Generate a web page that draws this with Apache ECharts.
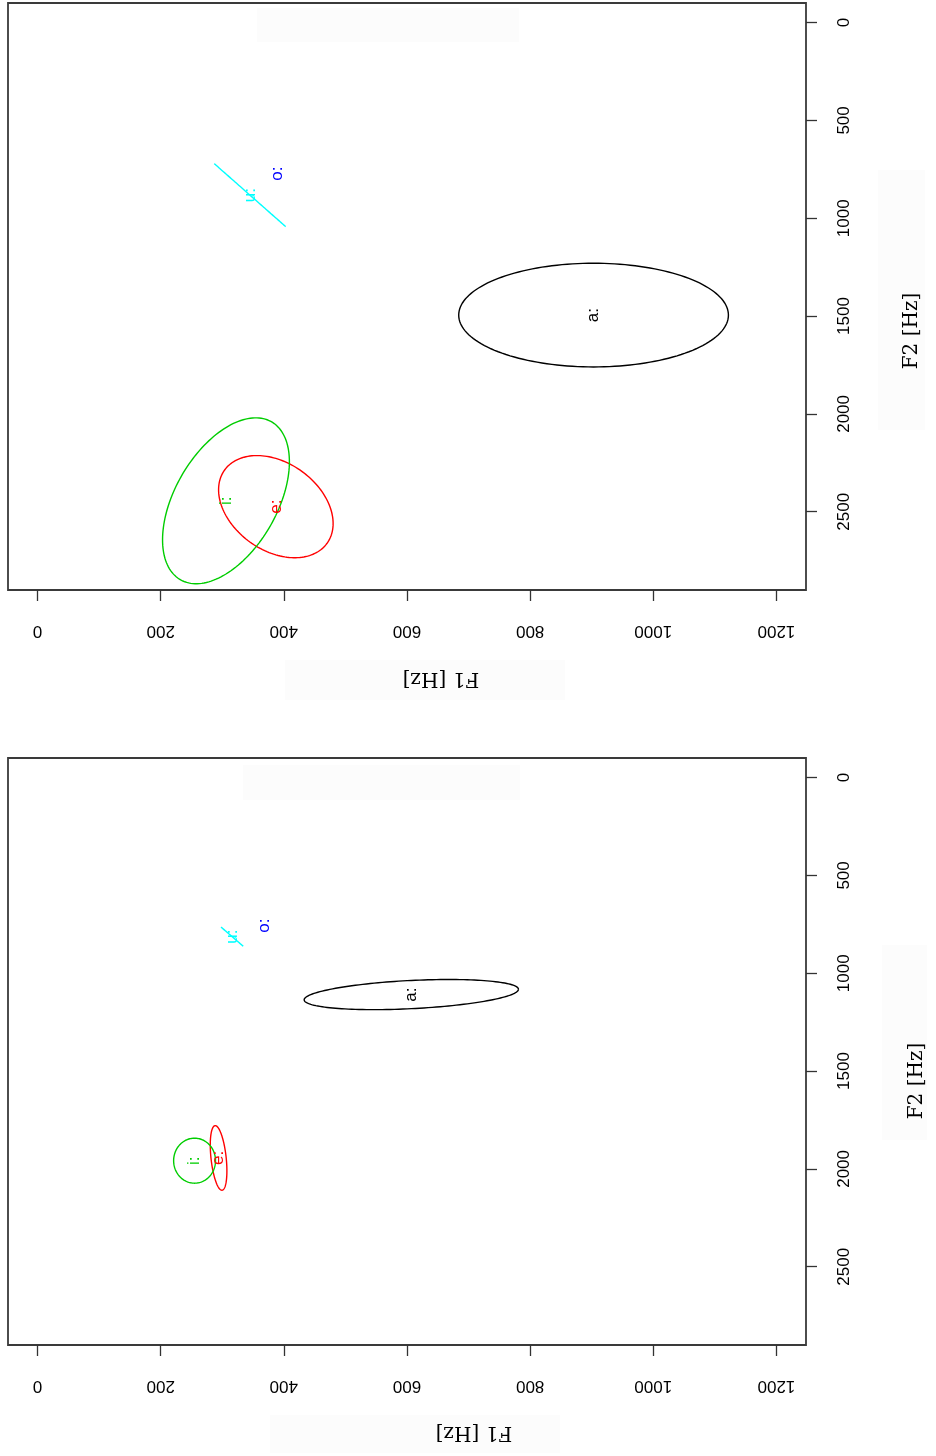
<!DOCTYPE html>
<html>
<head>
<meta charset="utf-8">
<script src="https://cdn.jsdelivr.net/npm/echarts@6/dist/echarts.min.js"></script>
<style>
  html, body { margin: 0; padding: 0; background: #ffffff; }
  #chart { width: 936px; height: 1456px; }
</style>
</head>
<body>
<div id="chart"></div>
<script>
// Vowel categories (long vowels) and their plotting colours
const vowels = ['a:', 'e:', 'i:', 'o:', 'u:'];
const vowelColors = ['#000000', '#ff0000', '#00cd00', '#0000ff', '#00ffff'];

// Axis tick values
const f1Ticks = [0, 200, 400, 600, 800, 1000, 1200];
const f2Ticks = [0, 500, 1000, 1500, 2000, 2500];

// Upper panel: centroids, ellipse half-extents and F1/F2 correlation
const f1MeanTop = [903, 387, 306, 390, 345];
const f2MeanTop = [1495, 2474, 2444, 772, 882];
const f1SpreadTop = [219, 93, 103, 0, 58];
const f2SpreadTop = [265, 261, 424, 0, 161];
const corrTop = [0, 0.33, -0.47, 0, 1];

// Lower panel: centroids, ellipse half-extents and F1/F2 correlation
const f1MeanBot = [607, 294, 255, 369, 316];
const f2MeanBot = [1109, 1944, 1958, 757, 813];
const f1SpreadBot = [174, 13.5, 34, 0, 18];
const f2SpreadBot = [77, 165, 115, 0, 49];
const corrBot = [-0.35, 0.4, 0, 0, 1];

const tickFont = '"Liberation Sans", Arial, sans-serif';
const titleFont = '"DejaVu Serif", serif';

function ellipseData(m1, m2, s1, s2, r) {
  const out = [];
  vowels.forEach((v, i) => {
    if (s1[i] > 0 || s2[i] > 0) {
      out.push({ name: v, value: [m1[i], m2[i], s1[i], s2[i], r[i]], itemStyle: { color: vowelColors[i] } });
    }
  });
  return out;
}

function labelData(m1, m2) {
  return vowels.map((v, i) => ({ name: v, value: [m1[i], m2[i]], itemStyle: { color: vowelColors[i] } }));
}

// Confidence ellipse traced in data space, mapped through the axes
function renderEllipse(params, api) {
  const m1 = api.value(0), m2 = api.value(1);
  const a = api.value(2), b = api.value(3), r = api.value(4);
  const s = Math.sqrt(Math.max(0, 1 - r * r));
  const pts = [];
  const n = 160;
  for (let k = 0; k <= n; k++) {
    const t = 2 * Math.PI * k / n;
    pts.push(api.coord([m1 + a * Math.cos(t), m2 + b * (r * Math.cos(t) + s * Math.sin(t))]));
  }
  return {
    type: 'polyline',
    shape: { points: pts },
    style: { fill: null, stroke: api.visual('color'), lineWidth: 1.4 }
  };
}

function renderLabel(params, api) {
  const p = api.coord([api.value(0), api.value(1)]);
  return {
    type: 'text',
    x: p[0],
    y: p[1],
    rotation: Math.PI / 2,
    style: {
      text: vowels[params.dataIndex],
      fill: api.visual('color'),
      font: '17px ' + tickFont,
      align: 'center',
      verticalAlign: 'middle'
    }
  };
}

const plain = v => String(v);

function xAxisDef(gridIndex) {
  return {
    type: 'value', gridIndex: gridIndex, min: -48, max: 1248, position: 'bottom',
    splitLine: { show: false },
    axisLine: { show: false, onZero: false },
    axisTick: { show: true, inside: false, customValues: f1Ticks, length: 11, lineStyle: { color: '#333', width: 1.3 } },
    axisLabel: { show: true, customValues: f1Ticks, formatter: plain, rotate: 180, margin: 32, color: '#000', fontSize: 17, fontFamily: tickFont }
  };
}

function yAxisDef(gridIndex) {
  return {
    type: 'value', gridIndex: gridIndex, min: -100, max: 2900, inverse: true, position: 'right',
    splitLine: { show: false },
    axisLine: { show: false, onZero: false },
    axisTick: { show: true, inside: false, customValues: f2Ticks, length: 11, lineStyle: { color: '#333', width: 1.3 } },
    axisLabel: { show: true, customValues: f2Ticks, formatter: plain, rotate: 90, margin: 30, color: '#000', fontSize: 17, fontFamily: tickFont }
  };
}

const gridStyle = { show: true, borderColor: '#3a3a3a', borderWidth: 1.8, backgroundColor: 'transparent', containLabel: false, outerBoundsMode: 'none' };

const faint = 'rgba(0,0,0,0.012)';

const chart = echarts.init(document.getElementById('chart'), null, { renderer: 'canvas' });
chart.setOption({
  animation: false,
  backgroundColor: '#ffffff',
  grid: [
    Object.assign({ left: 8, top: 3, width: 798, height: 587 }, gridStyle),
    Object.assign({ left: 8, top: 758, width: 798, height: 587 }, gridStyle)
  ],
  xAxis: [xAxisDef(0), xAxisDef(1)],
  yAxis: [yAxisDef(0), yAxisDef(1)],
  graphic: [
    { type: 'rect', shape: { x: 257, y: 8, width: 262, height: 34 }, style: { fill: faint }, silent: true },
    { type: 'rect', shape: { x: 285, y: 660, width: 280, height: 40 }, style: { fill: faint }, silent: true },
    { type: 'rect', shape: { x: 878, y: 170, width: 47, height: 260 }, style: { fill: faint }, silent: true },
    { type: 'rect', shape: { x: 243, y: 765, width: 277, height: 35 }, style: { fill: faint }, silent: true },
    { type: 'rect', shape: { x: 270, y: 1415, width: 290, height: 38 }, style: { fill: faint }, silent: true },
    { type: 'rect', shape: { x: 882, y: 945, width: 45, height: 195 }, style: { fill: faint }, silent: true },
    { type: 'text', x: 441, y: 678, rotation: Math.PI, style: { text: 'F1 [Hz]', font: '20px ' + titleFont, fill: '#000', align: 'center', verticalAlign: 'middle' } },
    { type: 'text', x: 912, y: 331, rotation: Math.PI / 2, style: { text: 'F2 [Hz]', font: '20px ' + titleFont, fill: '#000', align: 'center', verticalAlign: 'middle' } },
    { type: 'text', x: 474, y: 1432, rotation: Math.PI, style: { text: 'F1 [Hz]', font: '20px ' + titleFont, fill: '#000', align: 'center', verticalAlign: 'middle' } },
    { type: 'text', x: 917, y: 1081, rotation: Math.PI / 2, style: { text: 'F2 [Hz]', font: '20px ' + titleFont, fill: '#000', align: 'center', verticalAlign: 'middle' } }
  ],
  series: [
    { type: 'custom', xAxisIndex: 0, yAxisIndex: 0, renderItem: renderEllipse,
      data: ellipseData(f1MeanTop, f2MeanTop, f1SpreadTop, f2SpreadTop, corrTop) },
    { type: 'custom', xAxisIndex: 0, yAxisIndex: 0, renderItem: renderLabel,
      data: labelData(f1MeanTop, f2MeanTop) },
    { type: 'custom', xAxisIndex: 1, yAxisIndex: 1, renderItem: renderEllipse,
      data: ellipseData(f1MeanBot, f2MeanBot, f1SpreadBot, f2SpreadBot, corrBot) },
    { type: 'custom', xAxisIndex: 1, yAxisIndex: 1, renderItem: renderLabel,
      data: labelData(f1MeanBot, f2MeanBot) }
  ]
});
</script>
</body>
</html>
